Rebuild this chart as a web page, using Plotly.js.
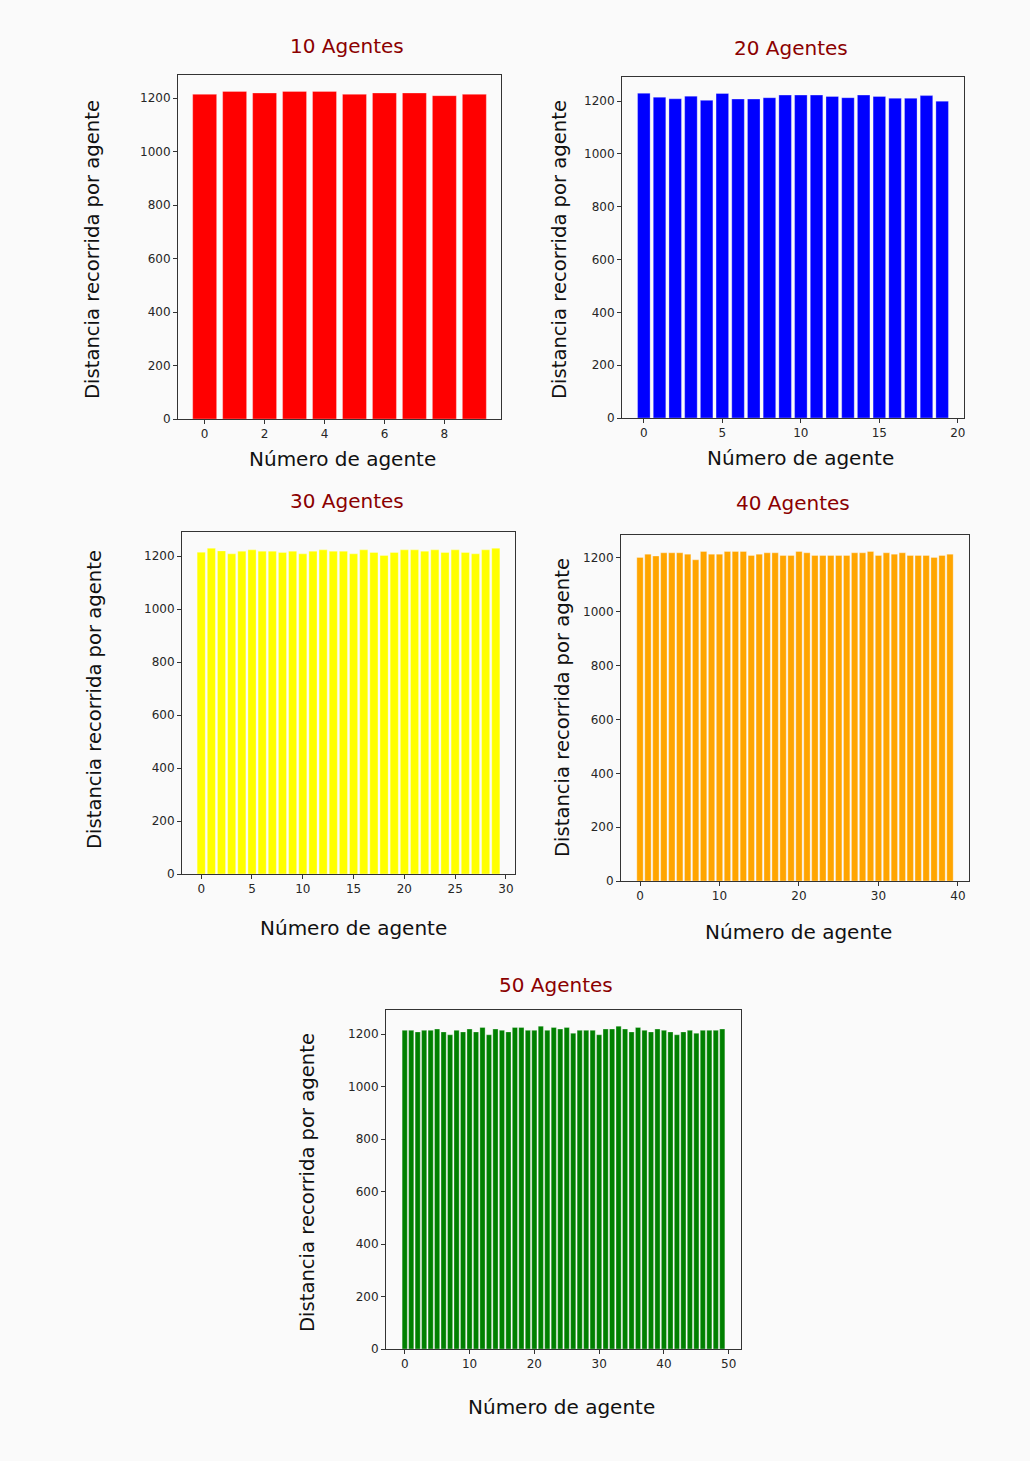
<!DOCTYPE html>
<html>
<head>
<meta charset="utf-8">
<script src="https://cdn.plot.ly/plotly-3.0.1.min.js"></script>
<style>html,body{margin:0;padding:0;background:#fafafa;}#chart{width:1030px;height:1461px;}</style>
</head>
<body>
<div id="chart"></div>
<script>
const titles = ["10 Agentes", "20 Agentes", "30 Agentes", "40 Agentes", "50 Agentes"];
const colors = ["#ff0000", "#0000ff", "#ffff00", "#ffa500", "#008000"];
const xLabel = "Número de agente";
const yLabel = "Distancia recorrida por agente";
const yTicks = [0, 200, 400, 600, 800, 1000, 1200];

const dist10 = [1214, 1225, 1219, 1225, 1225, 1214, 1219, 1219, 1209, 1214];
const dist20 = [1230, 1215, 1209, 1219, 1203, 1229, 1208, 1208, 1213, 1223,
                1223, 1223, 1218, 1213, 1223, 1218, 1211, 1211, 1221, 1200];
const dist30 = [1215, 1230, 1220, 1209, 1219, 1224, 1219, 1219, 1214, 1219,
                1209, 1219, 1224, 1219, 1219, 1209, 1224, 1214, 1203, 1214,
                1224, 1224, 1219, 1224, 1214, 1224, 1214, 1209, 1224, 1230];
const dist40 = [1202, 1214, 1207, 1219, 1219, 1219, 1214, 1193, 1224, 1214,
                1214, 1224, 1224, 1224, 1209, 1214, 1219, 1219, 1209, 1209,
                1224, 1219, 1209, 1209, 1209, 1209, 1209, 1219, 1219, 1224,
                1209, 1219, 1214, 1219, 1209, 1209, 1209, 1202, 1209, 1214];
const dist50 = [1214, 1214, 1208, 1214, 1214, 1219, 1208, 1197, 1214, 1208,
                1219, 1208, 1225, 1197, 1219, 1214, 1208, 1225, 1225, 1214,
                1214, 1230, 1214, 1225, 1219, 1225, 1203, 1214, 1214, 1214,
                1197, 1219, 1219, 1230, 1219, 1208, 1225, 1214, 1208, 1219,
                1214, 1208, 1197, 1208, 1214, 1203, 1214, 1214, 1214, 1219];
const series = [dist10, dist20, dist30, dist40, dist50];
const xDticks = [2, 5, 5, 10, 10];

// pixel boxes of the plot areas [left, top, right, bottom]
const W = 1030, H = 1461;
const boxes = [
  [178, 75, 501, 419],
  [622, 77, 964, 418],
  [182, 532, 515, 874],
  [621, 535, 969, 881],
  [386, 1010, 741, 1349]
];
// label positions: title(x,y), xlabel(x,y), ylabel(x,y)
const labelPos = [
  {t: [347, 46], xl: [342, 459], yl: [92, 250]},
  {t: [791, 48], xl: [800, 458], yl: [559, 250]},
  {t: [347, 501], xl: [353, 928], yl: [95, 700]},
  {t: [793, 503], xl: [798, 932], yl: [562, 708]},
  {t: [556, 985], xl: [561, 1407], yl: [307, 1183]}
];

const traces = [];
const layout = {
  width: W, height: H,
  margin: {l: 0, r: 0, t: 0, b: 0},
  paper_bgcolor: "#fafafa",
  plot_bgcolor: "#fafafa",
  showlegend: false,
  bargap: 0.2,
  font: {family: "DejaVu Sans", color: "#262626"},
  annotations: []
};

series.forEach((vals, i) => {
  const n = vals.length;
  const xs = vals.map((_, k) => k);
  const sfx = i === 0 ? "" : String(i + 1);
  traces.push({
    type: "bar", x: xs, y: vals,
    xaxis: "x" + sfx, yaxis: "y" + sfx,
    marker: {color: colors[i], line: {width: 0.6, color: "rgba(255,255,255,0.5)"}},
    hoverinfo: "x+y"
  });
  const b = boxes[i];
  const span = (n - 1) + 0.8;
  const lo = -0.4 - 0.05 * span, hi = (n - 1) + 0.4 + 0.05 * span;
  const ymax = Math.max(...vals) * 1.05;
  const common = {
    showline: true, mirror: true, linecolor: "#333", linewidth: 1,
    ticks: "outside", ticklen: 4, tickcolor: "#333",
    showgrid: false, zeroline: false,
    tickfont: {size: 12, color: "#262626", family: "DejaVu Sans"}
  };
  layout["xaxis" + sfx] = Object.assign({}, common, {
    domain: [b[0] / W, b[2] / W],
    anchor: "y" + sfx,
    range: [lo, hi],
    tickmode: "linear", tick0: 0, dtick: xDticks[i]
  });
  layout["yaxis" + sfx] = Object.assign({}, common, {
    domain: [1 - b[3] / H, 1 - b[1] / H],
    anchor: "x" + sfx,
    range: [0, ymax],
    tickmode: "array", tickvals: yTicks, ticktext: yTicks.map(String)
  });
  const p = labelPos[i];
  layout.annotations.push({
    text: titles[i], xref: "paper", yref: "paper",
    x: p.t[0] / W, y: 1 - p.t[1] / H, xanchor: "center", yanchor: "middle",
    showarrow: false, font: {size: 20, color: "#8b0000", family: "DejaVu Sans"}
  });
  layout.annotations.push({
    text: xLabel, xref: "paper", yref: "paper",
    x: p.xl[0] / W, y: 1 - p.xl[1] / H, xanchor: "center", yanchor: "middle",
    showarrow: false, font: {size: 20, color: "#111", family: "DejaVu Sans"}
  });
  layout.annotations.push({
    text: yLabel, xref: "paper", yref: "paper", textangle: -90,
    x: p.yl[0] / W, y: 1 - p.yl[1] / H, xanchor: "center", yanchor: "middle",
    showarrow: false, font: {size: 19.6, color: "#111", family: "DejaVu Sans"}
  });
});

Plotly.newPlot("chart", traces, layout, {displayModeBar: false, staticPlot: true});
</script>
</body>
</html>
